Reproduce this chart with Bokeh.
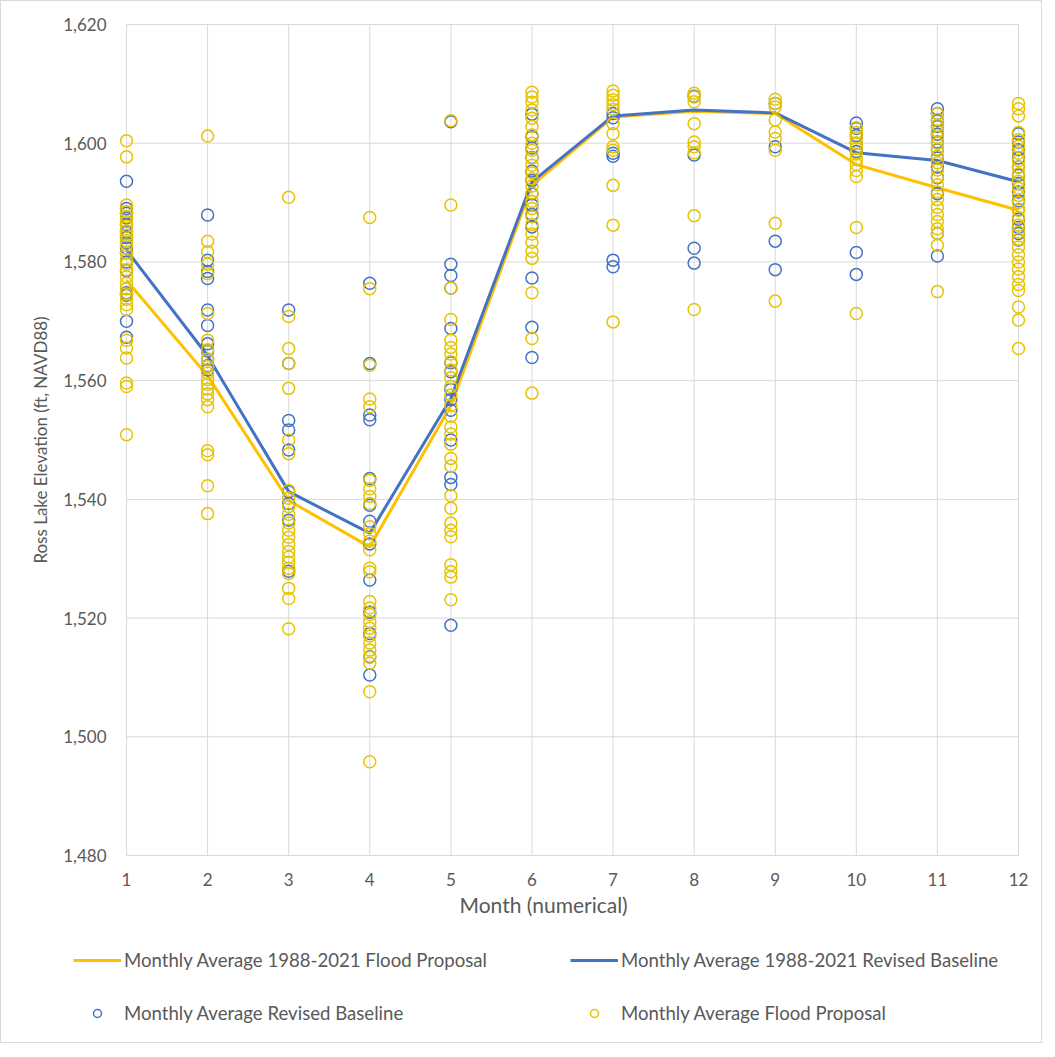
from bokeh.plotting import figure
from bokeh.layouts import column
from bokeh.models import (Range1d, FixedTicker, NumeralTickFormatter, Legend,
                          LegendItem, Title)
from bokeh.embed import file_html
from bokeh.resources import INLINE

# ---------------- data ----------------
MONTHS = [1, 2, 3, 4, 5, 6, 7, 8, 9, 10, 11, 12]
Y_TICKS = [1480, 1500, 1520, 1540, 1560, 1580, 1600, 1620]

FLOOD_AVG = [1576.9, 1560.8, 1539.8, 1532.0, 1555.8, 1592.9, 1604.4, 1605.4, 1605.0, 1596.4, 1592.5, 1588.7]
BASE_AVG = [1582.0, 1564.2, 1541.3, 1534.3, 1557.0, 1593.5, 1604.6, 1605.6, 1605.1, 1598.4, 1597.1, 1593.5]

FLOOD_1 = [1600.4, 1597.7, 1589.6, 1588.5, 1587.6, 1586.8, 1586.0, 1585.2, 1584.5, 1583.6, 1582.8, 1581.5,
           1580.4, 1579.6, 1578.7, 1577.5, 1576.4, 1575.5, 1574.6, 1573.7, 1572.8, 1572.0, 1566.8, 1565.5,
           1563.8, 1559.6, 1559.0, 1550.9]
BASE_1 = [1593.6, 1589.0, 1588.2, 1587.4, 1586.3, 1585.0, 1584.1, 1583.2, 1582.4, 1581.6, 1580.0, 1578.5,
          1574.8, 1574.4, 1570.0, 1567.3]
FLOOD_2 = [1601.2, 1583.5, 1581.7, 1579.6, 1578.0, 1571.3, 1566.8, 1565.2, 1563.6, 1562.4, 1561.3, 1560.2,
           1559.4, 1558.6, 1557.8, 1556.8, 1555.6, 1548.2, 1547.5, 1542.3, 1537.6]
BASE_2 = [1587.9, 1580.3, 1578.4, 1577.2, 1571.9, 1569.3, 1566.2, 1565.0, 1563.6, 1562.5, 1561.8]
FLOOD_3 = [1590.9, 1570.8, 1565.4, 1562.9, 1558.7, 1550.0, 1547.7, 1541.5, 1540.2, 1538.8, 1537.5, 1536.0,
           1534.8, 1533.6, 1532.4, 1531.2, 1530.3, 1529.4, 1528.4, 1527.5, 1525.0, 1523.3, 1518.2]
BASE_3 = [1571.9, 1562.9, 1553.3, 1551.7, 1548.3, 1541.3, 1539.3, 1536.5, 1527.9]
FLOOD_4 = [1587.5, 1575.5, 1562.6, 1556.9, 1555.6, 1543.2, 1541.8, 1540.5, 1539.3, 1535.4, 1534.2, 1533.0,
           1531.5, 1528.4, 1527.8, 1522.8, 1521.7, 1520.6, 1519.4, 1518.3, 1517.0, 1515.8, 1514.6, 1513.4,
           1512.4, 1507.6, 1495.8]
BASE_4 = [1576.4, 1562.9, 1554.2, 1553.4, 1543.5, 1539.0, 1536.3, 1532.5, 1526.4, 1521.0, 1517.4, 1513.5,
          1510.4]
FLOOD_5 = [1603.8, 1589.6, 1575.6, 1570.3, 1566.8, 1565.6, 1564.5, 1563.2, 1561.8, 1560.5, 1559.0, 1557.6,
           1555.8, 1554.0, 1552.2, 1551.0, 1549.3, 1546.9, 1545.6, 1540.6, 1538.5, 1536.0, 1534.8, 1533.7,
           1529.0, 1527.8, 1526.9, 1523.1]
BASE_5 = [1603.6, 1579.6, 1577.7, 1575.6, 1568.8, 1563.0, 1561.5, 1558.5, 1556.8, 1555.0, 1550.0, 1543.7,
          1542.5, 1518.8]
FLOOD_6 = [1608.6, 1607.8, 1606.9, 1605.6, 1604.2, 1602.8, 1601.4, 1600.0, 1598.8, 1597.5, 1596.3, 1595.0,
           1594.0, 1592.8, 1591.6, 1590.2, 1589.0, 1587.6, 1586.3, 1584.7, 1583.3, 1581.8, 1580.6, 1574.8,
           1567.1, 1557.9]
BASE_6 = [1604.9, 1601.1, 1599.2, 1597.6, 1595.3, 1593.7, 1591.5, 1589.6, 1588.0, 1585.9, 1577.3, 1569.0,
          1563.9]
FLOOD_7 = [1608.8, 1608.1, 1607.3, 1606.5, 1605.7, 1603.3, 1601.6, 1599.4, 1598.8, 1592.9, 1586.2, 1569.9]
BASE_7 = [1605.0, 1604.3, 1598.3, 1597.8, 1580.3, 1579.2]
FLOOD_8 = [1608.4, 1607.8, 1607.0, 1603.3, 1600.2, 1599.4, 1598.4, 1587.8, 1572.0]
BASE_8 = [1607.9, 1598.0, 1582.3, 1579.8]
FLOOD_9 = [1607.4, 1606.7, 1606.1, 1603.9, 1601.9, 1600.8, 1598.8, 1586.5, 1573.4]
BASE_9 = [1606.7, 1599.4, 1583.5, 1578.7]
FLOOD_10 = [1602.6, 1601.8, 1600.9, 1600.0, 1599.1, 1598.2, 1597.3, 1596.4, 1595.4, 1594.4, 1585.8, 1571.3]
BASE_10 = [1603.4, 1602.5, 1601.3, 1600.0, 1598.6, 1581.6, 1577.9]
FLOOD_11 = [1605.0, 1604.0, 1603.0, 1602.0, 1601.0, 1600.0, 1599.0, 1597.8, 1596.7, 1595.5, 1594.3, 1593.0,
            1591.8, 1590.5, 1589.2, 1588.0, 1586.8, 1585.6, 1584.8, 1582.8, 1575.0]
BASE_11 = [1605.8, 1605.0, 1603.8, 1602.8, 1601.5, 1600.2, 1598.9, 1597.5, 1596.0, 1594.2, 1591.5, 1584.8,
           1581.0]
FLOOD_12 = [1606.7, 1605.8, 1604.6, 1601.8, 1600.6, 1599.5, 1598.3, 1597.1, 1596.0, 1594.8, 1593.6, 1592.4,
            1591.2, 1590.0, 1588.7, 1587.5, 1586.2, 1585.0, 1583.8, 1582.5, 1581.2, 1580.0, 1578.8, 1577.5,
            1576.2, 1575.2, 1572.4, 1570.2, 1565.4]
BASE_12 = [1601.6, 1600.2, 1598.9, 1597.5, 1596.0, 1594.6, 1593.2, 1591.8, 1590.3, 1588.8, 1587.2, 1585.8,
           1584.8, 1583.7]

FLOOD_PTS = [FLOOD_1, FLOOD_2, FLOOD_3, FLOOD_4, FLOOD_5, FLOOD_6, FLOOD_7, FLOOD_8, FLOOD_9, FLOOD_10,
             FLOOD_11, FLOOD_12]
BASE_PTS = [BASE_1, BASE_2, BASE_3, BASE_4, BASE_5, BASE_6, BASE_7, BASE_8, BASE_9, BASE_10, BASE_11, BASE_12]

LABEL_FLOOD_AVG = "Monthly Average 1988-2021 Flood Proposal"
LABEL_BASE_AVG = "Monthly Average 1988-2021 Revised Baseline"
LABEL_BASE_PTS = "Monthly Average Revised Baseline"
LABEL_FLOOD_PTS = "Monthly Average Flood Proposal"


def flatten(groups):
    xs, ys = [], []
    for m, vals in zip(MONTHS, groups):
        xs.extend([m] * len(vals))
        ys.extend(vals)
    return xs, ys


fx, fy = flatten(FLOOD_PTS)
bx, by = flatten(BASE_PTS)

# ---------------- styling ----------------
YELLOW = "#FFC000"
BLUE = "#4472C4"
MARK_YELLOW = "#E6C400"
GRID = "#d9d9d9"
TXT = "#595959"
FONT = "Lato"

FRAME_W, FRAME_H, PAD = 892, 831, 8
xspan = MONTHS[-1] - MONTHS[0]
yspan = Y_TICKS[-1] - Y_TICKS[0]
xpad = PAD * xspan / FRAME_W
ypad = PAD * yspan / FRAME_H

p = figure(width=1040, height=930,
           x_range=Range1d(MONTHS[0] - xpad, MONTHS[-1] + xpad),
           y_range=Range1d(Y_TICKS[0] - ypad, Y_TICKS[-1] + ypad),
           output_backend="svg", toolbar_location=None,
           min_border_left=117, min_border_right=15, min_border_top=15, min_border_bottom=68)
p.frame_align = False
p.outline_line_color = None
p.background_fill_color = "white"
p.border_fill_color = "white"
p.xgrid.visible = False
p.ygrid.visible = False

# grid lines drawn on the data span only
p.segment(x0=MONTHS, y0=[Y_TICKS[0]] * len(MONTHS), x1=MONTHS, y1=[Y_TICKS[-1]] * len(MONTHS),
          line_color=GRID, line_width=1)
p.segment(x0=[MONTHS[0]] * len(Y_TICKS), y0=Y_TICKS, x1=[MONTHS[-1]] * len(Y_TICKS), y1=Y_TICKS,
          line_color=GRID, line_width=1)

# axes
p.xaxis.ticker = FixedTicker(ticks=MONTHS)
p.yaxis.ticker = FixedTicker(ticks=Y_TICKS)
p.yaxis.formatter = NumeralTickFormatter(format="0,0")
for ax in (p.xaxis[0], p.yaxis[0]):
    ax.axis_line_color = None
    ax.major_tick_line_color = None
    ax.minor_tick_line_color = None
    ax.major_label_text_font = FONT
    ax.major_label_text_font_size = "17px"
    ax.major_label_text_color = TXT
    ax.axis_label_text_font = FONT
    ax.axis_label_text_font_style = "normal"
    ax.axis_label_text_color = TXT
p.yaxis.axis_label = "Ross Lake Elevation (ft, NAVD88)"
p.yaxis.axis_label_text_font_size = "17px"
p.xaxis.major_label_standoff = 3
p.yaxis.major_label_standoff = 6
p.yaxis.axis_label_standoff = 9

xtitle = Title(text="Month (numerical)", align="left", offset=341, standoff=2,
               text_font=FONT, text_font_size="21px", text_font_style="normal", text_color=TXT)
p.add_layout(xtitle, "below")

# series
p.line(MONTHS, FLOOD_AVG, line_color=YELLOW, line_width=3)
p.line(MONTHS, BASE_AVG, line_color=BLUE, line_width=3)
p.scatter(bx, by, marker="circle", size=12, fill_color=None, line_color=BLUE, line_width=1.5)
p.scatter(fx, fy, marker="circle", size=12, fill_color=None, line_color=MARK_YELLOW, line_width=1.5)

# ---------------- legend strip ----------------
lg = figure(width=1040, height=111, x_range=Range1d(0, 1), y_range=Range1d(0, 1),
            x_axis_type=None, y_axis_type=None,
            output_backend="svg", toolbar_location=None,
            min_border_left=0, min_border_right=0, min_border_top=0, min_border_bottom=0)
lg.frame_align = False
lg.xgrid.visible = False
lg.ygrid.visible = False
lg.outline_line_color = None
lg.border_fill_color = "white"
lg.background_fill_color = "white"

# legend swatches: same series, lying outside this strip's view, only supply the legend glyphs
k_flood_avg = lg.line(MONTHS, FLOOD_AVG, line_color=YELLOW, line_width=3)
k_base_avg = lg.line(MONTHS, BASE_AVG, line_color=BLUE, line_width=3)
k_base_pts = lg.scatter(bx, by, marker="circle", size=12, fill_color=None, line_color=BLUE, line_width=1.5)
k_flood_pts = lg.scatter(fx, fy, marker="circle", size=12, fill_color=None, line_color=MARK_YELLOW,
                         line_width=1.5)


def make_legend(items, loc):
    return Legend(items=items, location=loc, orientation="vertical",
                  glyph_width=48, glyph_height=20, label_standoff=3, spacing=31,
                  padding=0, margin=0, border_line_color=None, background_fill_alpha=0,
                  label_text_font=FONT, label_text_font_size="18.6px", label_text_color=TXT)


lg.add_layout(make_legend([LegendItem(label=LABEL_FLOOD_AVG, renderers=[k_flood_avg]),
                           LegendItem(label=LABEL_BASE_PTS, renderers=[k_base_pts])], (72, 18)), "center")
lg.add_layout(make_legend([LegendItem(label=LABEL_BASE_AVG, renderers=[k_base_avg]),
                           LegendItem(label=LABEL_FLOOD_PTS, renderers=[k_flood_pts])], (569, 18)), "center")

layout = column(p, lg, spacing=0, styles={"border": "1px solid #d9d9d9"})

open("out.html", "w").write(file_html(layout, INLINE))
